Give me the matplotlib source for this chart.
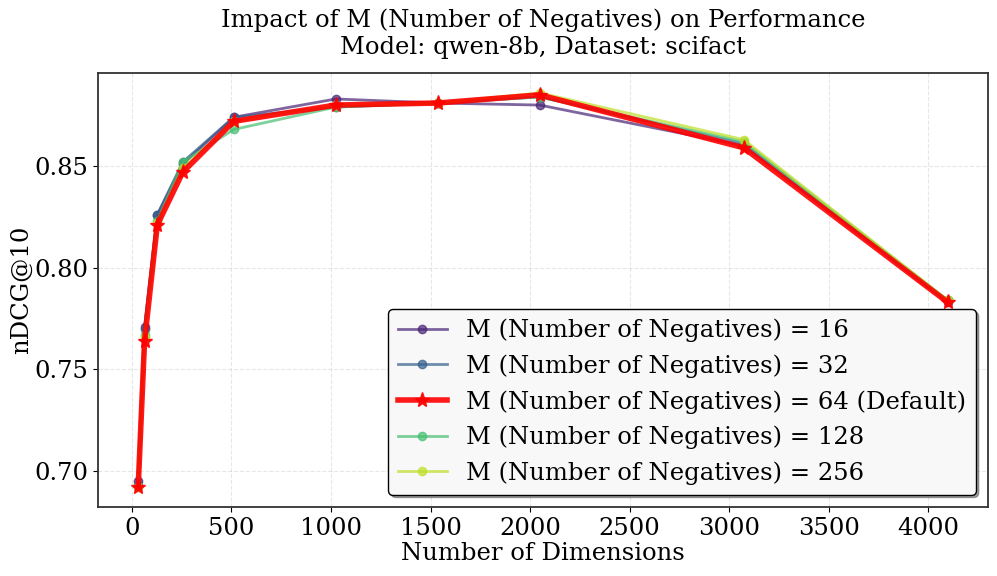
import matplotlib
matplotlib.use("Agg")
import matplotlib.pyplot as plt
from matplotlib.ticker import MultipleLocator
import numpy as np

dims = [32, 64, 128, 256, 512, 1024, 1536, 2048, 3072, 4096]
m_values = [16, 32, 64, 128, 256]
m16 = [0.695, 0.771, 0.826, 0.851, 0.874, 0.883, 0.881, 0.880, 0.860, 0.783]
m32 = [0.693, 0.770, 0.826, 0.852, 0.874, 0.879, 0.881, 0.884, 0.861, 0.784]
m64 = [0.692, 0.764, 0.821, 0.847, 0.872, 0.880, 0.881, 0.885, 0.859, 0.783]
m128 = [0.692, 0.767, 0.823, 0.852, 0.868, 0.879, 0.881, 0.884, 0.862, 0.784]
m256 = [0.692, 0.766, 0.822, 0.849, 0.872, 0.880, 0.881, 0.886, 0.863, 0.784]
series = [m16, m32, m64, m128, m256]

plt.rcParams['font.family'] = ['DejaVu Serif']
fs = 17.5
fig, ax = plt.subplots(figsize=(9.97, 5.76), dpi=100)
cmap = plt.get_cmap('viridis')
colors = [cmap(v) for v in np.linspace(0.1, 0.9, 5)]
for m, vals, c in zip(m_values, series, colors):
    if m == 64:
        ax.plot(dims, vals, color='red', alpha=0.9, lw=4, marker='*', markersize=11,
                label=f'M (Number of Negatives) = {m} (Default)', zorder=5)
    else:
        ax.plot(dims, vals, color=c, lw=2, marker='o', markersize=6, alpha=0.7,
                label=f'M (Number of Negatives) = {m}')

ax.yaxis.set_major_locator(MultipleLocator(0.05))
ax.set_xlabel('Number of Dimensions', fontsize=fs, labelpad=2)
ax.set_ylabel('nDCG@10', fontsize=fs, labelpad=1)
ax.set_title('Impact of M (Number of Negatives) on Performance\nModel: qwen-8b, Dataset: scifact',
             fontsize=fs, pad=14)
ax.tick_params(labelsize=fs)
ax.grid(True, linestyle='--', alpha=0.3)
for s in ax.spines.values():
    s.set_color('#333333')
    s.set_linewidth(1.3)
leg = ax.legend(fontsize=fs, loc='lower right', shadow=True, fancybox=True, framealpha=1.0,
                facecolor='#f8f8f8', edgecolor='black')
fig.subplots_adjust(left=0.098, right=0.991, top=0.873, bottom=0.120)
fig.savefig('out.png', dpi=100)
